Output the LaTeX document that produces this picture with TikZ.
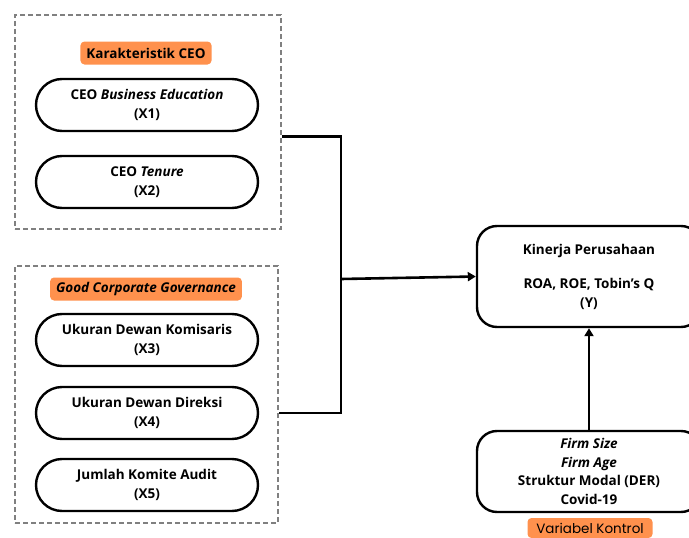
\documentclass[tikz,border=0pt]{standalone}
\usepackage{fontspec}
\setmainfont{Open Sans}
\newfontfamily\tagfont{Poppins}
\usepackage{xcolor}
\usetikzlibrary{shapes,arrows.meta,positioning,fit}
\definecolor{tagorange}{HTML}{FF914D}
\definecolor{boxgray}{HTML}{808080}

\begin{document}
\begin{tikzpicture}[
    x=1pt, y=-1pt,
    pill/.style={rounded rectangle, draw, line width=2.4pt, minimum width=222pt, minimum height=52pt, inner sep=0pt, align=center, font=\bfseries\fontsize{13.5}{18.5}\selectfont},
    group/.style={rectangle, draw=boxgray, dash pattern=on 5pt off 3pt, line width=1.6pt, inner sep=0pt},
    tag/.style={fill=tagorange, rounded corners=4pt, inner xsep=6pt, inner ysep=0pt, minimum height=23pt, font=\bfseries\fontsize{13.5}{15}\selectfont},
    outcome/.style={rectangle, rounded corners=20pt, draw, line width=2.4pt, minimum width=224pt, inner sep=0pt, align=center, font=\bfseries\fontsize{13.5}{18.5}\selectfont},
    arrow/.style={line width=2.6pt,-{Triangle[length=8pt,width=9pt]}},
    link/.style={line width=2.6pt}
]
    \useasboundingbox (0,0) rectangle (689,538);

    % Groups (dashed frames)
    \node [group, minimum width=266pt, minimum height=214pt] (ceogroup) at (148,122) {};
    \node [group, minimum width=263pt, minimum height=257pt] (gcggroup) at (146.5,394.5) {};

    \node [tag] (tagceo) at (146,53) {Karakteristik CEO};
    \node [tag] (taggcg) at (146,289) {\itshape Good Corporate Governance};

    % Independent variables
    \node [pill] (x1) at (147,105) {CEO \textit{Business Education}\\(X1)};
    \node [pill] (x2) at (147,182) {CEO \textit{Tenure}\\(X2)};
    \node [pill] (x3) at (147,340) {Ukuran Dewan Komisaris\\(X3)};
    \node [pill] (x4) at (147,413) {Ukuran Dewan Direksi\\(X4)};
    \node [pill] (x5) at (147,485) {Jumlah Komite Audit\\(X5)};

    % Dependent and control variables
    \node [outcome, minimum height=101pt] (kinerja) at (589,276.5) {Kinerja Perusahaan\\[16pt]ROA, ROE, Tobin's Q\\(Y)};
    \node [outcome, minimum height=81pt] (kontrol) at (589,471.5) {\textit{Firm Size}\\\textit{Firm Age}\\Struktur Modal (DER)\\Covid-19};
    \node [fill=tagorange, rounded corners=4pt, minimum width=125pt, minimum height=20pt, inner sep=0pt, font=\tagfont\fontsize{13.5}{15}\selectfont] (tagkontrol) at (590,528) {Variabel Kontrol};

    %--- Connectors ---
    \coordinate (join) at (341,279);
    \draw [link] ([yshift=-4pt]ceogroup.east |- x1.south) -| (join) |- (gcggroup.east |- x4);
    \draw [arrow] (join) -- (kinerja.west);
    \draw [arrow] (kontrol.north) -- (kinerja.south);

\end{tikzpicture}
\end{document}
